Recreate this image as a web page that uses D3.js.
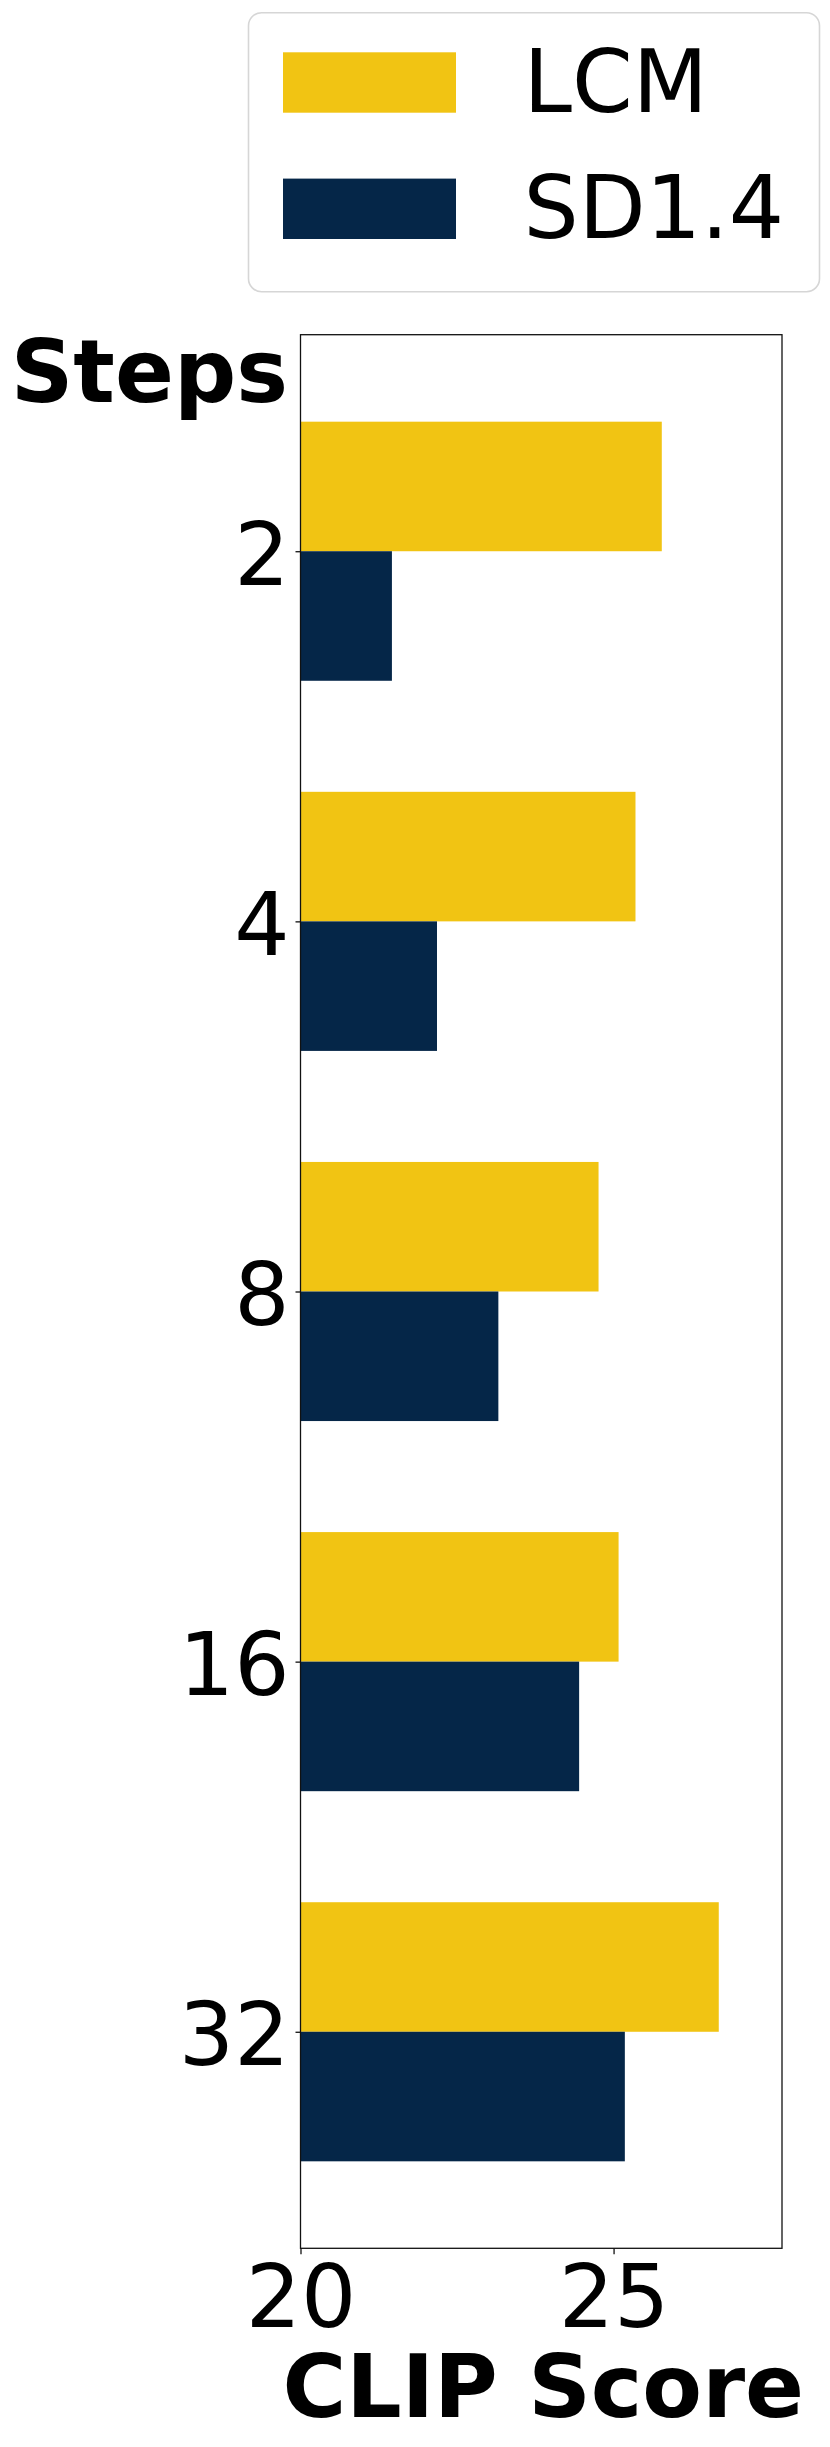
<!DOCTYPE html>
<html>
<head>
<meta charset="utf-8">
<script src="https://cdn.jsdelivr.net/npm/d3@7"></script>
<style>
  body { margin: 0; background: #fff; }
  svg { display: block; font-family: "DejaVu Sans", sans-serif; }
</style>
</head>
<body>
<svg id="chart"></svg>
<script>
// data
var steps = ["2", "4", "8", "16", "32"]
var lcmScores = [25.77, 25.35, 24.76, 25.08, 26.68]
var sdScores = [21.46, 22.18, 23.16, 24.45, 25.18]
var seriesNames = ["LCM", "SD1.4"]
var xTicks = [20, 25]

var colors = {LCM: "#f1c413", "SD1.4": "#052648"}

var dimensions = {
    width: 830,
    height: 2447,
    margin: {top: 334.7, bottom: 198.7, left: 300.5, right: 48}
}

var svg = d3.select("#chart")
    .attr("width", dimensions.width)
    .attr("height", dimensions.height)

var x0 = dimensions.margin.left
var x1 = dimensions.width - dimensions.margin.right
var y0 = dimensions.margin.top
var y1 = dimensions.height - dimensions.margin.bottom

var xScale = d3.scaleLinear()
    .domain([20, 27.69])
    .range([x0, x1])

var yScale = d3.scalePoint()
    .domain(steps)
    .range([y0, y1])
    .padding(0.585)

var barH = yScale.step() * 0.35

var rows = steps.map((s, i) => ({step: s, lcm: lcmScores[i], sd: sdScores[i]}))

var g = svg.append("g")

// LCM above tick, SD below
g.selectAll("rect.lcm")
    .data(rows)
    .enter()
    .append("rect")
    .attr("class", "lcm")
    .attr("x", xScale(20))
    .attr("y", d => yScale(d.step) - barH)
    .attr("width", d => xScale(d.lcm) - xScale(20))
    .attr("height", barH)
    .attr("fill", colors.LCM)

g.selectAll("rect.sd")
    .data(rows)
    .enter()
    .append("rect")
    .attr("class", "sd")
    .attr("x", xScale(20))
    .attr("y", d => yScale(d.step))
    .attr("width", d => xScale(d.sd) - xScale(20))
    .attr("height", barH)
    .attr("fill", colors["SD1.4"])

// frame
svg.append("rect")
    .attr("x", x0)
    .attr("y", y0)
    .attr("width", x1 - x0)
    .attr("height", y1 - y0)
    .attr("fill", "none")
    .attr("stroke", "#111")
    .attr("stroke-width", 1.3)

var yAxis = svg.append("g")
    .attr("transform", "translate(" + x0 + ",0)")
    .call(d3.axisLeft(yScale).tickSize(5).tickPadding(6))
yAxis.select(".domain").remove()
yAxis.selectAll("line").attr("stroke", "#111").attr("stroke-width", 1.3)
yAxis.selectAll("text")
    .attr("font-size", 87)
    .attr("font-family", "DejaVu Sans")
    .attr("fill", "#000")
    .attr("dy", "0.38em")

var xAxis = svg.append("g")
    .attr("transform", "translate(0," + y1 + ")")
    .call(d3.axisBottom(xScale).tickValues(xTicks).tickFormat(d3.format("d")).tickSize(6).tickPadding(11))
xAxis.select(".domain").remove()
xAxis.selectAll("line").attr("stroke", "#111").attr("stroke-width", 1.3)
xAxis.selectAll("text")
    .attr("font-size", 87)
    .attr("font-family", "DejaVu Sans")
    .attr("fill", "#000")

// axis titles
svg.append("text")
    .attr("x", 288)
    .attr("y", 402)
    .attr("text-anchor", "end")
    .attr("font-size", 87)
    .attr("font-weight", "bold")
    .text("Steps")

svg.append("text")
    .attr("x", (x0 + x1) / 2 + 2)
    .attr("y", 2417)
    .attr("text-anchor", "middle")
    .attr("font-size", 87)
    .attr("font-weight", "bold")
    .text("CLIP Score")

// legend
var legend = svg.append("g")
legend.append("rect")
    .attr("x", 248.5)
    .attr("y", 12.7)
    .attr("width", 571)
    .attr("height", 279)
    .attr("rx", 13)
    .attr("fill", "#fff")
    .attr("stroke", "#d6d6d6")
    .attr("stroke-width", 1.6)

var items = legend.selectAll("g.item")
    .data(seriesNames)
    .enter()
    .append("g")
    .attr("class", "item")
    .attr("transform", (d, i) => "translate(0," + (i * 126.3) + ")")

items.append("rect")
    .attr("x", 283)
    .attr("y", 52.3)
    .attr("width", 173)
    .attr("height", 60.4)
    .attr("fill", d => colors[d])

items.append("text")
    .attr("x", 523.5)
    .attr("y", 112)
    .attr("font-size", 87)
    .attr("fill", "#000")
    .text(d => d)
</script>
</body>
</html>
